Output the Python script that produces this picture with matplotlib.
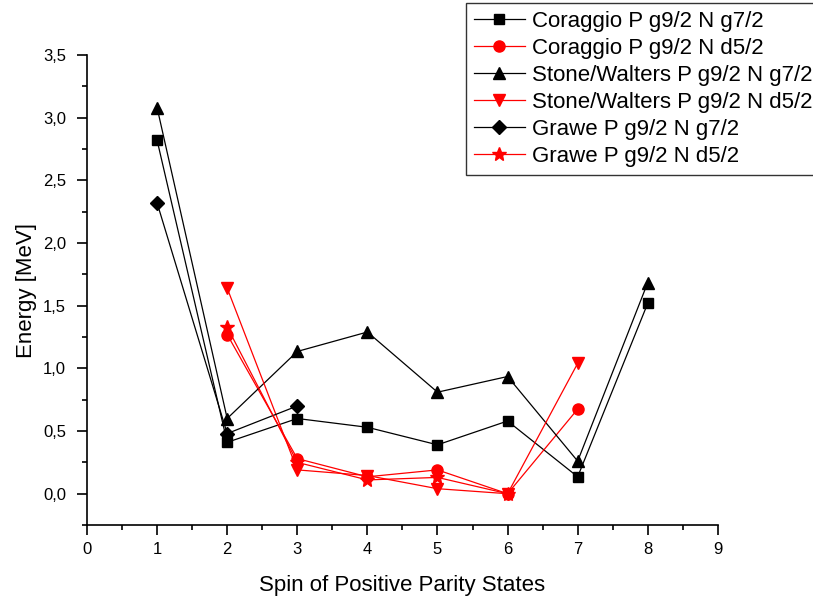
import numpy as np
import matplotlib
matplotlib.use("Agg")
import matplotlib.pyplot as plt
from matplotlib.ticker import MultipleLocator, FuncFormatter

plt.rcParams['font.family'] = ['Liberation Sans', 'DejaVu Sans']

# ========== DATA ========== #

spin_g7 = [1, 2, 3, 4, 5, 6, 7, 8]
coraggio_g7 = [2.82, 0.41, 0.60, 0.53, 0.39, 0.58, 0.135, 1.52]
stone_g7 = [3.08, 0.60, 1.135, 1.29, 0.81, 0.935, 0.26, 1.685]

spin_grawe_g7 = [1, 2, 3]
grawe_g7 = [2.32, 0.48, 0.70]

spin_d5 = [2, 3, 4, 5, 6, 7]
coraggio_d5 = [1.27, 0.28, 0.135, 0.19, 0.0, 0.675]
stone_d5 = [1.64, 0.19, 0.145, 0.04, 0.0, 1.04]

spin_grawe_d5 = [2, 3, 4, 5, 6]
grawe_d5 = [1.33, 0.25, 0.11, 0.13, 0.0]

# ========== PLOT ========== #

fig = plt.figure(figsize=(8.13, 5.98), dpi=100)
ax = fig.add_axes([0.107, 0.122, 0.776, 0.786])

lw = 0.9
ax.plot(spin_g7, coraggio_g7, color='black', lw=lw, marker='s', ms=7,
        label='Coraggio P g9/2 N g7/2')
ax.plot(spin_d5, coraggio_d5, color='red', lw=lw, marker='o', ms=8,
        label='Coraggio P g9/2 N d5/2')
ax.plot(spin_g7, stone_g7, color='black', lw=lw, marker='^', ms=8.5,
        label='Stone/Walters P g9/2 N g7/2')
ax.plot(spin_d5, stone_d5, color='red', lw=lw, marker='v', ms=8.5,
        label='Stone/Walters P g9/2 N d5/2')
ax.plot(spin_grawe_g7, grawe_g7, color='black', lw=lw, marker='D', ms=7,
        label='Grawe P g9/2 N g7/2')
ax.plot(spin_grawe_d5, grawe_d5, color='red', lw=lw, marker='*', ms=10,
        label='Grawe P g9/2 N d5/2')

ax.set_xlim(0, 9)
ax.set_ylim(-0.25, 3.5)
ax.xaxis.set_major_locator(MultipleLocator(1))
ax.xaxis.set_minor_locator(MultipleLocator(0.5))
ax.yaxis.set_major_locator(MultipleLocator(0.5))
ax.yaxis.set_minor_locator(MultipleLocator(0.25))
ax.yaxis.set_major_formatter(FuncFormatter(lambda v, p: f"{v:.1f}".replace('.', ',')))

for side in ['top', 'right']:
    ax.spines[side].set_visible(False)
for side in ['left', 'bottom']:
    ax.spines[side].set_linewidth(1.2)

ax.tick_params(which='major', direction='out', length=7.2, width=1.2, labelsize=12)
ax.tick_params(which='minor', direction='out', length=3.6, width=1.2)
ax.tick_params(axis='x', which='major', pad=5)
ax.tick_params(axis='y', which='major', pad=8)

ax.set_xlabel('Spin of Positive Parity States', fontsize=16, labelpad=13)
ax.set_ylabel('Energy [MeV]', fontsize=16, labelpad=4)

leg = fig.legend(loc='upper left', bbox_to_anchor=(466 / 813, 1 - 3 / 598),
                 fontsize=16, frameon=True, fancybox=False, edgecolor='black',
                 handlelength=2.3, handletextpad=0.3, borderpad=0.35,
                 labelspacing=0.27, borderaxespad=0)
leg.get_frame().set_linewidth(1.0)

fig.savefig('out.png', dpi=100)
